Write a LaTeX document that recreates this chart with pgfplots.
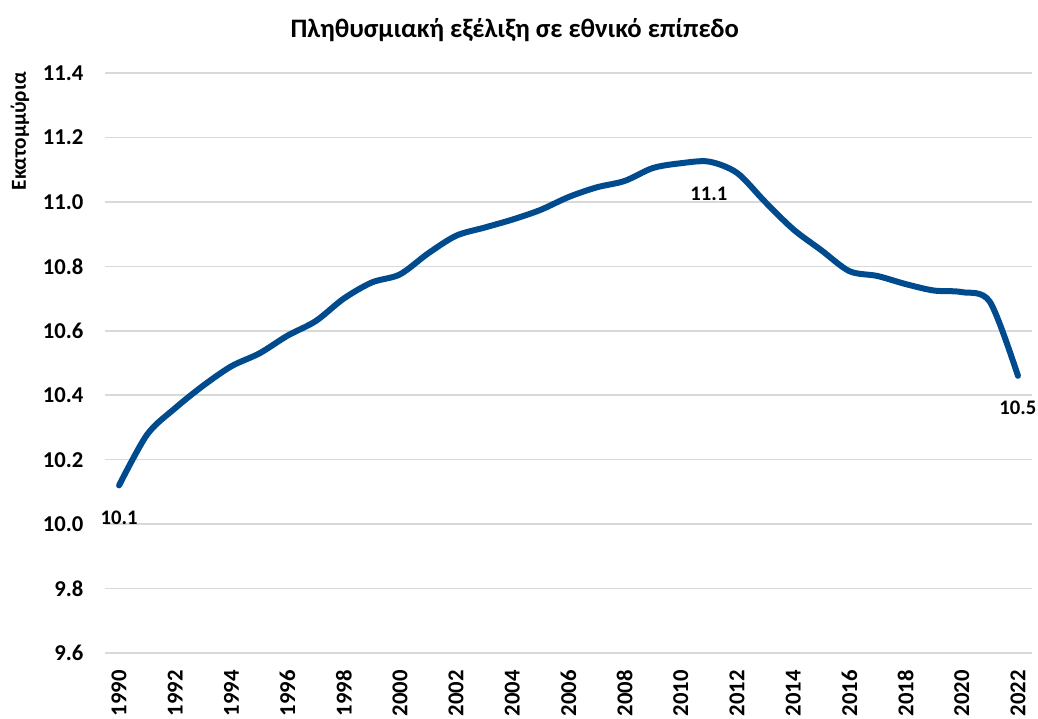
\documentclass[border=0pt]{standalone}
\usepackage{pgfplots}
\pgfplotsset{compat=1.18}
\usepackage{fontspec}
\setmainfont{Carlito}
\definecolor{lineblue}{RGB}{0,75,141}
\definecolor{gridgrey}{RGB}{217,217,217}
\begin{document}
\begin{tikzpicture}
\useasboundingbox (-78.75pt,-48.75pt) rectangle (699.75pt,489.75pt);
\begin{axis}[
  at={(0,0)}, anchor=south west,
  scale only axis,
  width=695.25pt, height=435pt,
  xmin=1989.5, xmax=2022.5,
  ymin=9.6, ymax=11.4,
  xtick={1990,1992,1994,1996,1998,2000,2002,2004,2006,2008,2010,2012,2014,2016,2018,2020,2022},
  xticklabels={1990,1992,1994,1996,1998,2000,2002,2004,2006,2008,2010,2012,2014,2016,2018,2020,2022},
  ytick={9.6,9.8,10.0,10.2,10.4,10.6,10.8,11.0,11.2,11.4},
  yticklabels={9.6,9.8,10.0,10.2,10.4,10.6,10.8,11.0,11.2,11.4},
  axis line style={draw=none},
  major tick length=0pt,
  ymajorgrids,
  grid style={gridgrey, line width=1.1pt},
  xticklabel style={rotate=90, anchor=east, inner sep=0pt, font=\fontsize{17}{20}\selectfont\bfseries},
  yticklabel style={anchor=east, inner sep=0pt, font=\fontsize{17}{20}\selectfont\bfseries},
  xticklabel shift=12.75pt,
  yticklabel shift=16pt,
  ylabel={Εκατομμύρια},
  ylabel style={at={(axis description cs:-0.0917,0.9)}, anchor=center, font=\fontsize{16}{19}\selectfont\bfseries},
  title={Πληθυσμιακή εξέλιξη σε εθνικό επίπεδο},
  title style={at={(axis description cs:0.442,1)}, anchor=center, yshift=26pt, font=\fontsize{20}{24}\selectfont\bfseries},
  clip=false,
]
\addplot[lineblue, line width=4.5pt, smooth, tension=0.5, line cap=round, line join=round] coordinates {
(1990,10.12) (1991,10.278) (1992,10.36) (1993,10.43) (1994,10.49) (1995,10.53)
(1996,10.585) (1997,10.63) (1998,10.70) (1999,10.75) (2000,10.775) (2001,10.84)
(2002,10.895) (2003,10.92) (2004,10.945) (2005,10.975) (2006,11.015) (2007,11.045)
(2008,11.065) (2009,11.105) (2010,11.12) (2011,11.125) (2012,11.09) (2013,11.00)
(2014,10.915) (2015,10.85) (2016,10.785) (2017,10.77) (2018,10.745) (2019,10.725)
(2020,10.72) (2021,10.69) (2022,10.46)
};
\addplot[draw=none, point meta=explicit symbolic, nodes near coords,
  every node near coord/.style={anchor=center, yshift=-24pt, font=\fontsize{15.5}{18}\selectfont\bfseries}]
coordinates {(1990,10.12) [10.1] (2011,11.125) [11.1] (2022,10.46) [10.5]};
\end{axis}
\end{tikzpicture}
\end{document}
